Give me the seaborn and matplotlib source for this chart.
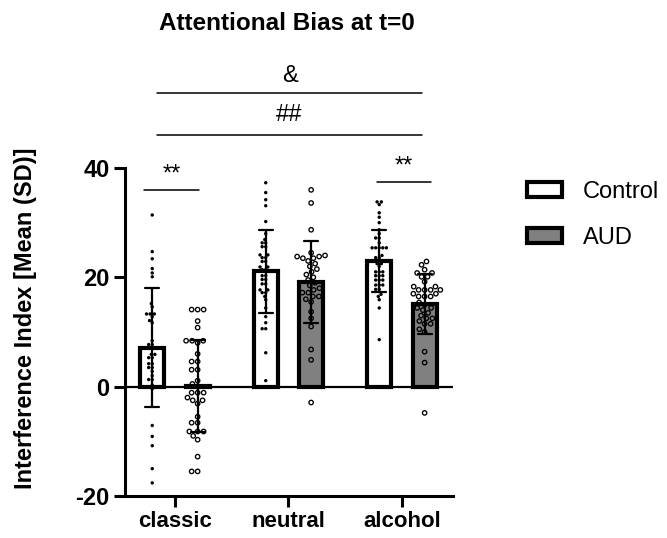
import numpy as np
import pandas as pd
import matplotlib
matplotlib.use("Agg")
import matplotlib.pyplot as plt
from matplotlib.patches import Patch
import seaborn as sns

# ---- data ----
tasks = ["classic", "neutral", "alcohol"]
groups = ["Control", "AUD"]

classic_control = [31.4, 24.7, 23.4, 21.6, 20.8, 20.1, 15.2, 14.6, 13.3, 13.3, 13.3,
                   12.8, 12.1, 11.7, 8.4, 7.7, 7.7, 5.9, 5.9, 5.3, 5.3, 4.2, 4.2, 3.5,
                   3.5, 2.8, 2.0, 1.3, 1.3, 0.3, -0.4, -7.1, -9.1, -10.8, -15.0, -17.6]
classic_aud = [14.1, 14.1, 14.1, 12.0, 10.8, 8.4, 8.4, 8.4, 8.0, 6.0, 4.6, 4.6, 3.1, 3.1, 1.1,
               0.5, 0.0, -1.1, -1.1, -1.1, -2.0, -2.5, -2.5, -3.1, -5.5, -6.6, -6.6, -8.2,
               -8.2, -8.2, -9.0, -9.7, -12.8, -15.5, -15.5]
neutral_control = [37.3, 35.5, 34.2, 33.1, 30.2, 28.0, 26.9, 26.3, 26.3, 25.6, 25.6, 24.1, 24.1,
                   23.6, 23.6, 22.9, 22.9, 21.9, 21.9, 21.4, 21.4, 20.3, 20.3, 19.6, 19.6,
                   18.8, 18.8, 17.7, 17.7, 17.2, 17.2, 16.5, 15.9, 14.4, 12.8, 11.7, 10.6, 10.6,
                   6.2, 1.1]
neutral_aud = [36.0, 33.6, 28.7, 24.5, 24.0, 23.8, 23.8, 23.5, 23.5, 23.0, 22.5, 22.0, 21.5,
               21.0, 20.5, 20.0, 19.5, 19.0, 18.5, 18.0, 17.7, 17.2, 17.2, 16.5, 16.5, 16.0,
               15.5, 13.7, 12.5, 11.0, 6.8, 4.9, -2.9]
alcohol_control = [33.8, 33.8, 33.3, 31.8, 31.0, 30.0, 28.7, 28.0, 27.2, 27.2, 26.3, 25.4, 25.4,
                   25.4, 25.4, 25.4, 24.0, 23.6, 23.6, 22.5, 22.5, 22.0, 21.0, 21.0, 21.0, 20.3,
                   20.3, 20.3, 19.5, 19.5, 19.5, 18.6, 18.6, 18.6, 17.8, 17.8, 16.9, 16.5, 15.9,
                   14.4, 8.6]
alcohol_aud = [22.9, 22.3, 21.4, 20.8, 20.8, 20.1, 20.1, 19.2, 18.3, 18.3, 17.7, 17.7, 17.7,
               17.7, 17.0, 17.0, 16.5, 16.5, 16.5, 15.4, 15.0, 14.4, 14.4, 14.0, 13.5, 13.0,
               12.5, 12.5, 12.0, 11.5, 11.5, 10.5, 10.0, 6.4, 4.4, -4.8]

y_ticks = [-20, 0, 20, 40]
title = "Attentional Bias at t=0"
ylabel = "Interference Index [Mean (SD)]"

series = {
    ("classic", "Control"): classic_control, ("classic", "AUD"): classic_aud,
    ("neutral", "Control"): neutral_control, ("neutral", "AUD"): neutral_aud,
    ("alcohol", "Control"): alcohol_control, ("alcohol", "AUD"): alcohol_aud,
}
rows = []
for (t, g), vals in series.items():
    for v in vals:
        rows.append({"task": t, "group": g, "value": v})
df = pd.DataFrame(rows)

# ---- style ----
sns.set_style("ticks")
plt.rcParams["font.family"] = ["Liberation Sans", "DejaVu Sans"]
plt.rcParams["axes.unicode_minus"] = False
for k in ["text.color", "axes.labelcolor", "xtick.color", "ytick.color", "axes.edgecolor"]:
    plt.rcParams[k] = "black"

fig = plt.figure(figsize=(6.67, 5.38), dpi=100)
ax = fig.add_axes([125 / 667, 42 / 538, (453 - 125) / 667, (496 - 168) / 538])

sns.barplot(data=df, x="task", y="value", hue="group", order=tasks, hue_order=groups,
            palette={"Control": "white", "AUD": "#808080"}, errorbar="sd",
            capsize=0.25, width=0.8, gap=0.47, edgecolor="black", linewidth=3,
            err_kws={"color": "black", "linewidth": 1.6}, legend=False, ax=ax)

sns.swarmplot(data=df, x="task", y="value", hue="group", order=tasks, hue_order=groups,
              palette={"Control": "black", "AUD": "white"}, dodge=True,
              size=3.0, linewidth=0, legend=False, ax=ax, warn_thresh=1.0)

for c in ax.collections:
    fc = c.get_facecolor()
    if len(fc) and fc[0][0] > 0.5:
        c.set_facecolor("none")
        c.set_edgecolor("black")
        c.set_linewidth(0.95)
        c.set_sizes([10])
    else:
        c.set_sizes([6])
    c.set_zorder(1.5)

ax.axhline(0, color="black", lw=1.6, zorder=1.2)

ax.set_ylim(-20, 40)
ax.set_xlim(-0.44, 2.45)
ax.set_yticks(y_ticks)
ax.set_xlabel("")
ax.set_ylabel("")
sns.despine(ax=ax)
for s in ["left", "bottom"]:
    ax.spines[s].set_linewidth(2.2)
ax.tick_params(axis="both", width=2.2, length=8, labelsize=17, pad=3)
ax.tick_params(axis="x", labelsize=16)
for lab in ax.get_xticklabels() + ax.get_yticklabels():
    lab.set_fontweight("bold")

# ---- annotations ----
def bracket(x0, x1, y, txt, ty):
    ax.plot([x0, x1], [y, y], color="black", lw=1.1, clip_on=False)
    ax.text((x0 + x1) / 2, ty, txt, ha="center", va="center", fontsize=17, clip_on=False)

bracket(-0.27, 0.21, 36.0, "**", 38.8)
bracket(1.78, 2.26, 37.4, "**", 40.2)
bracket(-0.16, 2.18, 46.0, "##", 49.7)
bracket(-0.16, 2.18, 53.7, "&", 56.8)

fig.text(287 / 667, 1 - 23 / 538, title, ha="center", va="center", fontsize=17.5, fontweight="bold")
fig.text(26 / 667, 1 - 318 / 538, ylabel, ha="center", va="center", rotation=90,
         fontsize=17, fontweight="bold")

handles = [Patch(facecolor="white", edgecolor="black", linewidth=3),
           Patch(facecolor="#808080", edgecolor="black", linewidth=3)]
fig.legend(handles, groups, loc="upper left", bbox_to_anchor=(527 / 667, 1 - 181 / 538),
           frameon=False, fontsize=17, handlelength=1.5, handleheight=0.6,
           handletextpad=0.85, labelspacing=1.0, borderpad=0, borderaxespad=0)

fig.savefig("out.png", dpi=100)
